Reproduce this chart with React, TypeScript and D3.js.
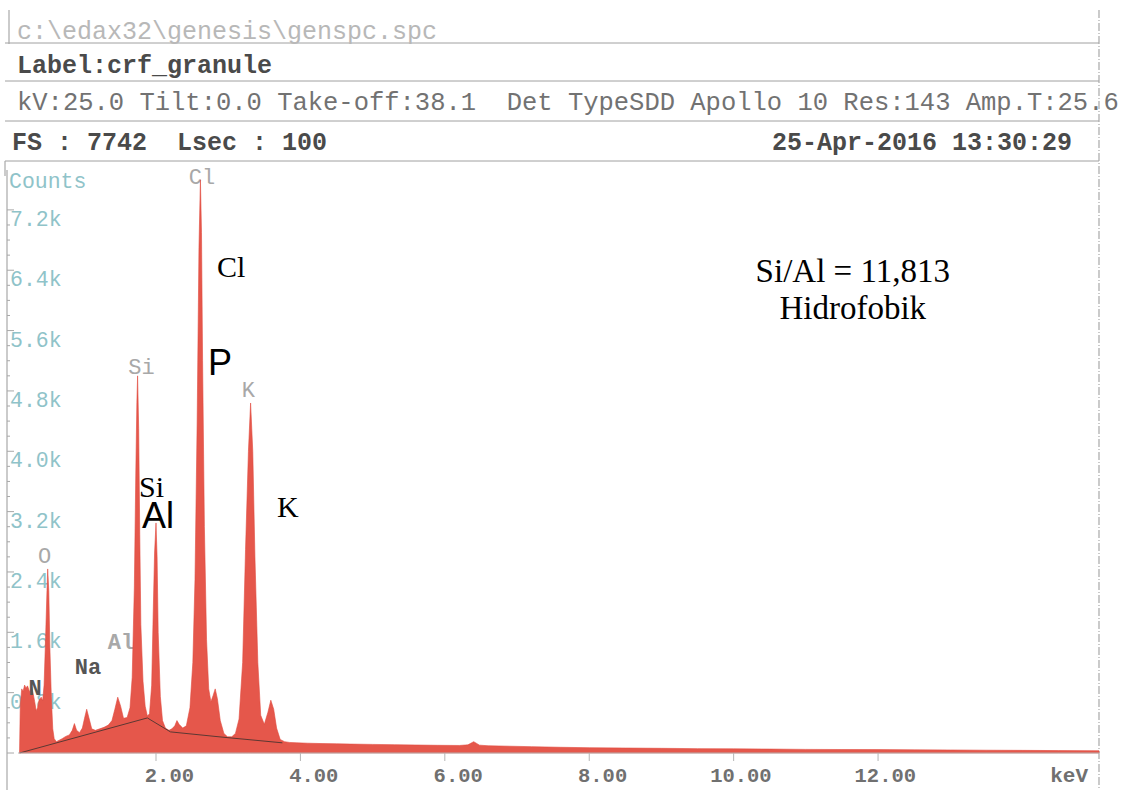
import React from 'react';
import * as d3 from 'd3';

// ---- spectrum (energy in keV, counts) ----
const energyKeV = [
  0.11, 0.12, 0.14, 0.16, 0.18, 0.2, 0.22, 0.25, 0.28, 0.3, 0.32, 0.34, 0.36, 0.38, 0.41, 0.43,
  0.45, 0.47, 0.49, 0.5, 0.515, 0.53, 0.55, 0.57, 0.59, 0.62, 0.66, 0.7, 0.75, 0.8, 0.84, 0.87,
  0.9, 0.94, 0.98, 1.01, 1.04, 1.07, 1.11, 1.16, 1.22, 1.28, 1.34, 1.39, 1.43, 1.47, 1.51, 1.55,
  1.6, 1.64, 1.67, 1.7, 1.72, 1.735, 1.745, 1.76, 1.775, 1.79, 1.82, 1.85, 1.88, 1.91, 1.94, 1.96,
  1.98, 2.0, 2.015, 2.03, 2.06, 2.09, 2.13, 2.18, 2.22, 2.26, 2.29, 2.32, 2.37, 2.42, 2.47, 2.51,
  2.54, 2.57, 2.595, 2.615, 2.63, 2.645, 2.67, 2.7, 2.73, 2.76, 2.79, 2.82, 2.85, 2.89, 2.94, 2.99,
  3.05, 3.1, 3.15, 3.2, 3.24, 3.28, 3.31, 3.34, 3.37, 3.41, 3.45, 3.5, 3.55, 3.59, 3.63, 3.67,
  3.72, 3.78, 3.85, 3.95, 4.1, 4.3, 4.5, 4.7, 5.0, 5.3, 5.6, 5.9, 6.2, 6.32, 6.4, 6.48,
  6.6, 6.9, 7.2, 7.6, 8.0, 8.5, 9.0, 9.5, 10.0, 10.5, 11.0, 11.5, 12.0, 12.5, 13.0, 13.5,
  14.0, 14.5, 15.06,
];
const counts = [
  0, 620, 850, 820, 900, 860, 890, 810, 870, 780, 680, 560, 600, 700, 740, 690,
  900, 1500, 2150, 2440, 2150, 1400, 750, 320, 190, 150, 170, 190, 220, 240, 300, 390,
  300, 270, 330, 460, 580, 470, 320, 300, 320, 340, 370, 430, 580, 740, 620, 460,
  470, 600, 1000, 2200, 3700, 4650, 5000, 4300, 2900, 1700, 950, 620, 490, 520, 900, 1800,
  2650, 3050, 2600, 1600, 750, 430, 330, 300, 320, 360, 430, 380, 330, 360, 600, 1200,
  2300, 4400, 6700, 7600, 6900, 5200, 3000, 1500, 850, 680, 760, 850, 720, 430, 260, 215,
  215, 260, 450, 1200, 2700, 4000, 4640, 4000, 2600, 1200, 500, 380, 540, 700, 580, 330,
  180, 150, 140, 135, 130, 125, 122, 118, 114, 110, 106, 102, 100, 108, 150, 104,
  96, 90, 84, 76, 70, 66, 62, 58, 55, 52, 48, 46, 45, 42, 40, 37,
  35, 32, 30,
];

// fitted background line
const bgKeV = [0.11, 1.88, 2.2, 2.9, 3.75];
const bgCounts = [0, 465, 280, 212, 135];

// axes
const xTickValues = [2, 4, 6, 8, 10, 12];
const xTickLabels = ['2.00', '4.00', '6.00', '8.00', '10.00', '12.00'];
const yTickValues = [800, 1600, 2400, 3200, 4000, 4800, 5600, 6400, 7200];
const yTickLabels = ['0.8k', '1.6k', '2.4k', '3.2k', '4.0k', '4.8k', '5.6k', '6.4k', '7.2k'];
const yMinorValues = d3.range(0, 7400, 200);

// instrument element markers: text, keV, counts
const markerText = ['Cl', 'Si', 'K', 'O', 'Al', 'Na', 'N'];
const markerKeV = [2.637, 1.8, 3.28, 0.456, 1.515, 1.058, 0.324];
const markerCounts = [7543, 5025, 4720, 2519, 1379, 1047, 769];

// hand-written annotations: text, keV, counts
const noteText = ['Cl', 'P', 'Si', 'Al', 'K'];
const noteKeV = [2.845, 2.72, 1.765, 1.806, 3.676];
const noteCounts = [6311, 5011, 3394, 2983, 3129];

const ratioText = ['Si/Al = 11,813', 'Hidrofobik'];
const ratioKeV = [11.65, 11.65];
const ratioCounts = [6240, 5760];

// header
const pathText = 'c:\\edax32\\genesis\\genspc.spc';
const labelText = 'Label:crf_granule';
const kvText = 'kV:25.0 Tilt:0.0 Take-off:38.1  Det TypeSDD Apollo 10 Res:143 Amp.T:25.6';
const fsText = 'FS : 7742  Lsec : 100';
const dateText = '25-Apr-2016 13:30:29';

const W = 1129;
const H = 790;
const MONO = '"Liberation Mono", "Courier New", monospace';
const SERIF = '"Liberation Serif", "Times New Roman", serif';
const SANS = '"Liberation Sans", Arial, sans-serif';

export default function App() {
  const x = d3.scaleLinear().domain([0, 15.06]).range([11.6, 1099]);
  const y = d3.scaleLinear().domain([0, 7742]).range([753, 169]);

  const pts = energyKeV.map((e, i) => [e, counts[i]] as [number, number]);
  const area = d3
    .area<[number, number]>()
    .x((d) => x(d[0]))
    .y0(y(0))
    .y1((d) => y(d[1]));
  const bgPts = bgKeV.map((e, i) => [e, bgCounts[i]] as [number, number]);
  const line = d3
    .line<[number, number]>()
    .x((d) => x(d[0]))
    .y((d) => y(d[1]));

  const hLines = [43, 81, 121, 161];
  const pre = { whiteSpace: 'pre' as const };

  return (
    <svg
      width={W}
      height={H}
      viewBox={`0 0 ${W} ${H}`}
      style={{ position: 'absolute', left: 0, top: 0, background: '#fff' }}
    >
      <rect x={0} y={0} width={W} height={H} fill="#fff" />
      {/* header frame */}
      {hLines.map((hy) => (
        <line key={hy} x1={5} x2={1099} y1={hy} y2={hy} stroke="#a0a0a0" strokeWidth={1} />
      ))}
      <line x1={9} x2={9} y1={10} y2={44} stroke="#a8a8a8" strokeWidth={1.2} />
      <line x1={5} x2={5} y1={161} y2={176} stroke="#a8a8a8" strokeWidth={1.2} />

      <text x={17} y={39} fontFamily={MONO} fontSize={25} fill="#b8b8b8" style={pre}>{pathText}</text>
      <text x={17} y={73} fontFamily={MONO} fontSize={25} fontWeight="bold" fill="#4a4a4a" style={pre}>{labelText}</text>
      <text x={17} y={110} fontFamily={MONO} fontSize={25.5} fill="#727272" style={pre}>{kvText}</text>
      <text x={12} y={150} fontFamily={MONO} fontSize={25} fontWeight="bold" fill="#4a4a4a" style={pre}>{fsText}</text>
      <text x={1072} y={150} textAnchor="end" fontFamily={MONO} fontSize={25} fontWeight="bold" fill="#4a4a4a" style={pre}>{dateText}</text>
      <line x1={1099} x2={1099} y1={10} y2={790} stroke="#a8a8a8" strokeWidth={1.2} strokeDasharray="8 2 1 2" />

      {/* y axis */}
      <line x1={7} x2={7} y1={170} y2={790} stroke="#a8a8a8" strokeWidth={1.2} />
      {yMinorValues.map((v) => (
        <line key={'m' + v} x1={7} x2={v % 800 === 0 ? 14 : 10} y1={y(v)} y2={y(v)} stroke="#a8a8a8" strokeWidth={1} />
      ))}
      <text x={9} y={188} fontFamily={MONO} fontSize={21.5} fill="#8fc3c9">Counts</text>
      {yTickValues.map((v, i) => (
        <text key={v} x={10} y={y(v) + 16} fontFamily={MONO} fontSize={21.5} fill="#8fc3c9">
          {yTickLabels[i]}
        </text>
      ))}

      {/* element markers beneath spectrum */}
      {markerText.map((t, i) =>
        t === 'N' ? null : (
          <text
            key={'mk' + i}
            x={x(markerKeV[i])}
            y={y(markerCounts[i])}
            textAnchor="middle"
            fontFamily={MONO}
            fontSize={22}
            fontWeight={t === 'Na' || t === 'Al' ? 'bold' : 'normal'}
            fill={t === 'Na' ? '#555' : '#a8a8a8'}
          >
            {t}
          </text>
        )
      )}

      {/* spectrum */}
      <path d={area(pts) || ''} fill="#e5574b" stroke="#e0493e" strokeWidth={0.6} />
      <path d={line(bgPts) || ''} fill="none" stroke="#5b3833" strokeWidth={1} />
      {markerText.map((t, i) =>
        t !== 'N' ? null : (
          <text key={'mkN'} x={x(markerKeV[i])} y={y(markerCounts[i])} textAnchor="middle" fontFamily={MONO} fontSize={22} fontWeight="bold" fill="#555">
            {t}
          </text>
        )
      )}

      {/* x axis */}
      <line x1={18} x2={1099} y1={y(0)} y2={y(0)} stroke="#b5b5b5" strokeWidth={1} />
      {xTickValues.map((v, i) => (
        <g key={v}>
          <line x1={x(v)} x2={x(v)} y1={y(0)} y2={y(0) + 8} stroke="#b5b5b5" strokeWidth={1} />
          <text x={x(v) + 38} y={782} textAnchor="end" fontFamily={MONO} fontSize={20.5} fontWeight="bold" fill="#707070">
            {xTickLabels[i]}
          </text>
        </g>
      ))}
      <text x={1088} y={782} textAnchor="end" fontFamily={MONO} fontSize={21} fontWeight="bold" fill="#707070">keV</text>

      {/* annotations */}
      {noteText.map((t, i) => (
        <text
          key={'n' + i}
          x={x(noteKeV[i])}
          y={y(noteCounts[i])}
          fontFamily={t === 'P' || t === 'Al' ? SANS : SERIF}
          fontSize={t === 'P' || t === 'Al' ? 36 : 30}
          fill="#000"
        >
          {t}
        </text>
      ))}
      {ratioText.map((t, i) => (
        <text key={'r' + i} x={x(ratioKeV[i])} y={y(ratioCounts[i])} textAnchor="middle" fontFamily={SERIF} fontSize={33} fill="#000">
          {t}
        </text>
      ))}
    </svg>
  );
}
